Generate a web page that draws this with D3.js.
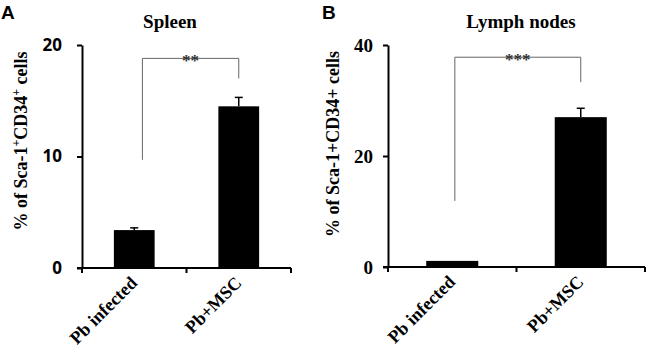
<!DOCTYPE html>
<html>
<head>
<meta charset="utf-8">
<script src="https://cdn.jsdelivr.net/npm/d3@7"></script>
<style>
  body { margin: 0; background: #fff; overflow: hidden; }
  svg { display: block; }
  .serif { font-family: "Liberation Serif", "DejaVu Serif", serif; font-weight: bold; }
</style>
</head>
<body>
<div id="chart"></div>
<script>
// data
var categories = ["Pb infected", "Pb+MSC"];

var spleenValues = [3.4, 14.5];
var spleenErrors = [0.2, 0.8];
var spleenTicks = [0, 10, 20];
var spleenBracket = [9.7, 18.8, 17.0]; // left end, top, right end
var spleenStars = "**";

var lymphValues = [1.1, 27.0];
var lymphErrors = [0.0, 1.6];
var lymphTicks = [0, 20, 40];
var lymphBracket = [11.9, 37.8, 33.3];
var lymphStars = "***";

var svg = d3.select("#chart")
  .append("svg")
  .attr("width", 649)
  .attr("height", 350);

function drawPanel(opt) {
  var g = svg.append("g");

  var x = d3.scaleBand()
    .domain(categories)
    .range([opt.left, opt.right])
    .paddingInner(opt.pad)
    .paddingOuter(opt.pad / 2);

  var y = d3.scaleLinear()
    .domain([0, d3.max(opt.ticks)])
    .range([opt.bottom, opt.top]);

  // bars
  g.selectAll("rect.bar")
    .data(opt.values)
    .enter()
    .append("rect")
    .attr("class", "bar")
    .attr("x", (d, i) => x(categories[i]))
    .attr("y", d => y(d))
    .attr("width", x.bandwidth())
    .attr("height", d => y(0) - y(d))
    .attr("fill", "#000");

  // error bars (upper whisker only)
  opt.values.forEach(function(v, i) {
    if (!opt.errors[i]) return;
    var cx = x(categories[i]) + x.bandwidth() / 2;
    g.append("line")
      .attr("x1", cx).attr("x2", cx)
      .attr("y1", y(v)).attr("y2", y(v + opt.errors[i]))
      .attr("stroke", "#000").attr("stroke-width", 1.5);
    g.append("line")
      .attr("x1", cx - 4).attr("x2", cx + 4)
      .attr("y1", y(v + opt.errors[i])).attr("y2", y(v + opt.errors[i]))
      .attr("stroke", "#000").attr("stroke-width", 1.5);
  });

  // y axis
  var yAxis = g.append("g")
    .attr("transform", `translate(${opt.left}, 0)`)
    .call(d3.axisLeft(y).tickValues(opt.ticks).tickSize(5).tickSizeOuter(0).tickPadding(opt.tickPad));
  yAxis.select(".domain").attr("stroke-width", 2);
  yAxis.selectAll(".tick line").attr("stroke-width", 2);
  yAxis.selectAll(".tick text")
    .attr("font-family", opt.tickFont)
    .attr("font-weight", "bold")
    .attr("font-size", opt.tickSize)
    .attr("fill", "#000");

  // x axis with ticks between categories
  g.append("line")
    .attr("x1", opt.left - 5).attr("x2", opt.right)
    .attr("y1", y(0)).attr("y2", y(0))
    .attr("stroke", "#000").attr("stroke-width", 2);
  d3.range(categories.length + 1).forEach(function(k) {
    var tx = opt.left + k * x.step();
    g.append("line")
      .attr("x1", tx).attr("x2", tx)
      .attr("y1", y(0)).attr("y2", y(0) + 5)
      .attr("stroke", "#000").attr("stroke-width", 2);
  });

  // category labels, slanted 45 degrees
  categories.forEach(function(c) {
    var cx = x(c) + x.bandwidth() / 2 + 4;
    var cy = y(0) + 16;
    g.append("text")
      .attr("class", "serif")
      .attr("x", cx)
      .attr("y", cy)
      .attr("transform", "rotate(-45 " + cx + " " + cy + ")")
      .attr("text-anchor", "end")
      .attr("font-size", 18)
      .text(c);
  });

  // significance bracket
  var bx1 = x(categories[0]) + x.bandwidth() * opt.bracketFrac;
  var bx2 = x(categories[1]) + x.bandwidth() / 2;
  g.append("path")
    .attr("d", `M${bx1},${y(opt.bracket[0])}V${y(opt.bracket[1])}H${bx2}V${y(opt.bracket[2])}`)
    .attr("fill", "none")
    .attr("stroke", "#666")
    .attr("stroke-width", 1);
  g.append("text")
    .attr("class", "serif")
    .attr("x", (bx1 + bx2) / 2)
    .attr("y", y(opt.bracket[1]) + 8)
    .attr("text-anchor", "middle")
    .attr("font-size", 17)
    .attr("fill", "#333")
    .text(opt.stars);

  // title
  g.append("text")
    .attr("class", "serif")
    .attr("x", opt.titleX)
    .attr("y", 28)
    .attr("text-anchor", "middle")
    .attr("font-size", 19)
    .text(opt.title);

  // panel letter
  g.append("text")
    .attr("x", opt.letterX)
    .attr("y", 19)
    .attr("font-family", "Liberation Sans, Arial, sans-serif")
    .attr("font-weight", "bold")
    .attr("font-size", 19)
    .text(opt.letter);

  // y axis label
  var yl = g.append("text")
    .attr("class", "serif")
    .attr("transform", `translate(${opt.yLabelX}, ${opt.yLabelY}) rotate(-90)`)
    .attr("text-anchor", "middle")
    .attr("font-size", 18);
  if (opt.superscript) {
    yl.append("tspan").text("% of Sca-1");
    yl.append("tspan").attr("baseline-shift", "super").attr("font-size", 12).text("+");
    yl.append("tspan").text("CD34");
    yl.append("tspan").attr("baseline-shift", "super").attr("font-size", 12).text("+");
    yl.append("tspan").text(" cells");
  } else {
    yl.text("% of Sca-1+CD34+ cells");
  }
}

drawPanel({
  left: 82, right: 291, top: 45, bottom: 268, pad: 0.61,
  values: spleenValues, errors: spleenErrors, ticks: spleenTicks,
  bracket: spleenBracket, stars: spleenStars, bracketFrac: 0.7,
  tickFont: "Open Sans, Liberation Sans, sans-serif", tickSize: 17, tickPad: 15,
  title: "Spleen", titleX: 170, letter: "A", letterX: 1,
  yLabelX: 27, yLabelY: 141, superscript: true
});

drawPanel({
  left: 388, right: 645, top: 45, bottom: 267, pad: 0.595,
  values: lymphValues, errors: lymphErrors, ticks: lymphTicks,
  bracket: lymphBracket, stars: lymphStars, bracketFrac: 0.55,
  tickFont: "Liberation Serif, serif", tickSize: 19, tickPad: 10,
  title: "Lymph nodes", titleX: 521, letter: "B", letterX: 322,
  yLabelX: 339, yLabelY: 144, superscript: false
});
</script>
</body>
</html>
